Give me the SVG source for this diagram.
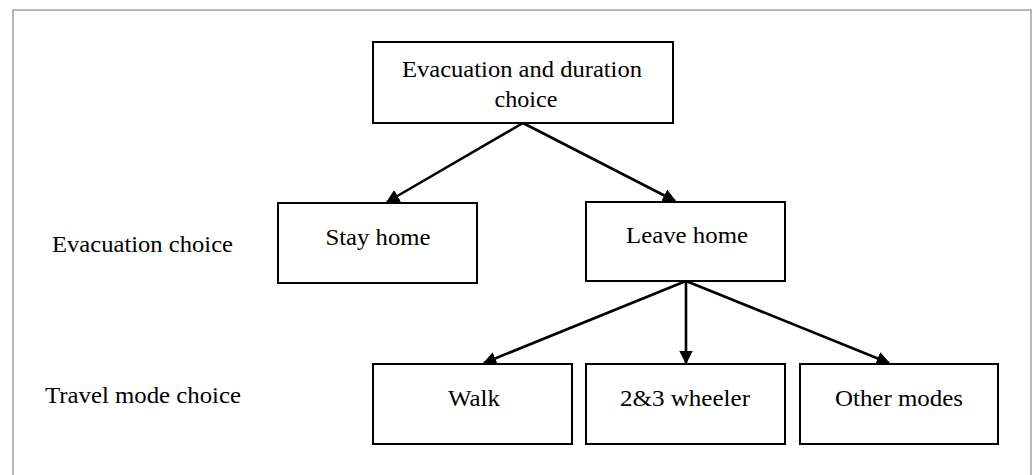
<svg xmlns="http://www.w3.org/2000/svg" width="1035" height="475" viewBox="0 0 1035 475">
<style>
.box{fill:#fff;stroke:#000;stroke-width:2}
.t{font-family:"Liberation Serif","Times New Roman",serif;font-size:23px;fill:#000;text-anchor:middle}
.lbl{font-family:"Liberation Serif","Times New Roman",serif;font-size:23px;fill:#000}
.c{stroke:#000;stroke-width:2.6;fill:none;marker-end:url(#ah)}
</style>
<defs>
<marker id="ah" viewBox="0 0 10 10" refX="9" refY="5" markerWidth="5.2" markerHeight="6" orient="auto" markerUnits="strokeWidth">
<path d="M0,0 L10,5 L0,10 z" fill="#000"/>
</marker>
</defs>
<rect x="0" y="0" width="1035" height="475" fill="#fff"/>
<path d="M13,476 L13,10 L1031,10 L1031,476" fill="none" stroke="#a0a0a0" stroke-width="1.5"/>
<g id="connectors">
<line class="c" x1="523" y1="123" x2="387" y2="202"/>
<line class="c" x1="523" y1="123" x2="675" y2="201"/>
<line class="c" x1="686" y1="281" x2="484" y2="363"/>
<line class="c" x1="686" y1="281" x2="686" y2="363"/>
<line class="c" x1="686" y1="281" x2="889" y2="363"/>
</g>
<g id="n-top">
<rect class="box" x="373" y="42" width="300" height="81"/>
<text class="t" x="522" y="77" textLength="240" lengthAdjust="spacingAndGlyphs">Evacuation and duration</text>
<text class="t" x="526" y="107" textLength="63" lengthAdjust="spacingAndGlyphs">choice</text>
</g>
<g id="n-stay">
<rect class="box" x="278" y="203" width="199" height="80"/>
<text class="t" x="378" y="245" textLength="105" lengthAdjust="spacingAndGlyphs">Stay home</text>
</g>
<g id="n-leave">
<rect class="box" x="586" y="202" width="199" height="79"/>
<text class="t" x="687" y="243" textLength="122" lengthAdjust="spacingAndGlyphs">Leave home</text>
</g>
<g id="n-walk">
<rect class="box" x="373" y="364" width="199" height="80"/>
<text class="t" x="474" y="406" textLength="52" lengthAdjust="spacingAndGlyphs">Walk</text>
</g>
<g id="n-wheeler">
<rect class="box" x="586" y="364" width="199" height="80"/>
<text class="t" x="685" y="406" textLength="130" lengthAdjust="spacingAndGlyphs">2&amp;3 wheeler</text>
</g>
<g id="n-other">
<rect class="box" x="800" y="364" width="198" height="80"/>
<text class="t" x="899" y="406" textLength="128" lengthAdjust="spacingAndGlyphs">Other modes</text>
</g>
<g id="l-evac">
<text class="lbl" x="52" y="252" textLength="181" lengthAdjust="spacingAndGlyphs">Evacuation choice</text>
</g>
<g id="l-travel">
<text class="lbl" x="45" y="403" textLength="196" lengthAdjust="spacingAndGlyphs">Travel mode choice</text>
</g>
</svg>
